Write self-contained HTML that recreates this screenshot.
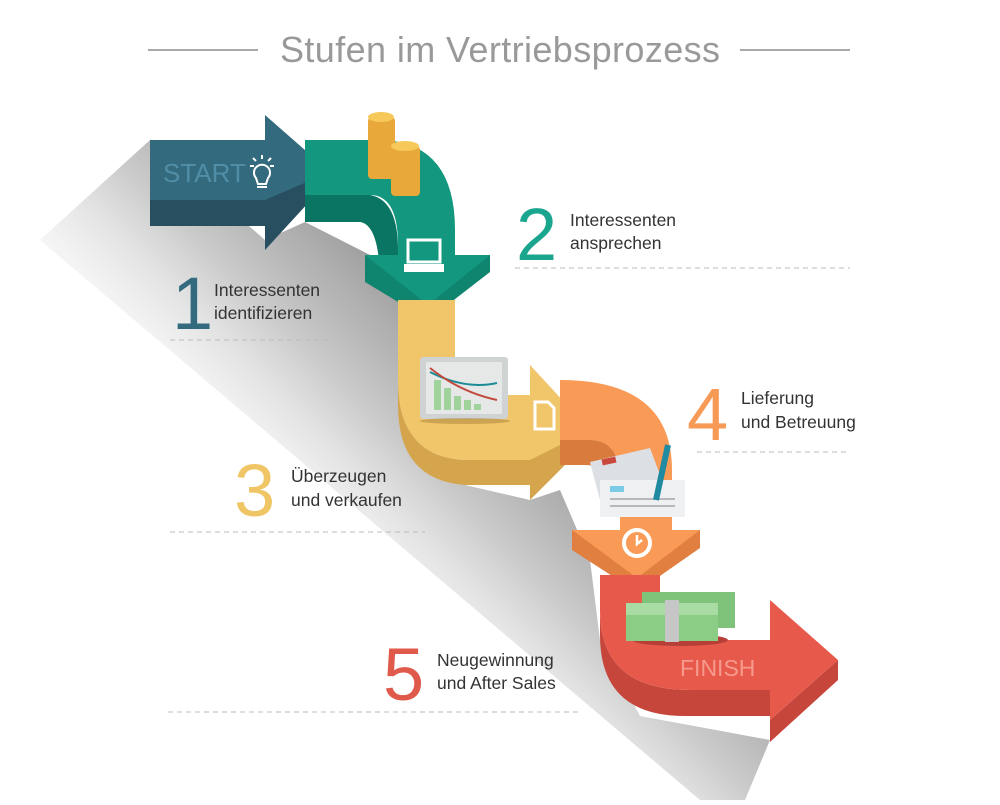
<!DOCTYPE html>
<html><head><meta charset="utf-8"><style>
html,body{margin:0;padding:0;background:#fff;}
body{width:1000px;height:800px;overflow:hidden;font-family:"Liberation Sans",sans-serif;}
</style></head><body>
<svg width="1000" height="800" viewBox="0 0 1000 800" xmlns="http://www.w3.org/2000/svg" font-family="Liberation Sans, sans-serif">
<defs>
<linearGradient id="sh" x1="470" y1="330" x2="240" y2="560" gradientUnits="userSpaceOnUse">
<stop offset="0" stop-color="#999"/><stop offset="0.4" stop-color="#cbcbcb"/><stop offset="1" stop-color="#ffffff" stop-opacity="0"/>
</linearGradient>
</defs>
<!-- shadow -->
<polygon points="150,140 40,240 700,800 745,800 770,740 640,716 600,640 590,560 560,490 530,500 465,485 400,420 398,300 380,260 305,222 265,240" fill="url(#sh)"/>
<!-- title -->
<line x1="148" y1="50" x2="258" y2="50" stroke="#aaa" stroke-width="2"/>
<line x1="740" y1="50" x2="850" y2="50" stroke="#aaa" stroke-width="2"/>
<text x="500" y="62" text-anchor="middle" font-size="36" fill="#999" textLength="440">Stufen im Vertriebsprozess</text>

<!-- START arrow -->
<rect x="150" y="140" width="118" height="60" fill="#336a7e"/>
<rect x="150" y="200" width="118" height="26" fill="#274f60"/>
<polygon points="265,115 330,172 265,250" fill="#336a7e"/>
<polygon points="265,200 330,172 320,190 265,250" fill="#274f60"/>
<text x="163" y="182" font-size="26" fill="#4f8ea6">START</text>
<g stroke="#fff" stroke-width="2" fill="none">
<path d="M256,178 a8,8 0 1 1 12,0 l-2,6 h-8 z"/>
<line x1="257" y1="187" x2="267" y2="187"/>
<line x1="262" y1="155" x2="262" y2="159"/><line x1="250" y1="166" x2="254" y2="166"/><line x1="270" y1="166" x2="274" y2="166"/>
<line x1="253" y1="158" x2="256" y2="161"/><line x1="271" y1="158" x2="268" y2="161"/>
</g>

<!-- teal -->
<path d="M305,195 L370,195 Q398,200 398,250 L398,285 L380,285 Q380,225 360,222 L305,222 Z" fill="#0b7563"/>
<path d="M305,140 L385,140 Q455,145 455,230 L455,258 L398,258 L398,245 Q398,195 370,195 L305,195 Z" fill="#13977f"/>
<polygon points="365,255 490,255 490,272 428,320 365,282" fill="#0f846f"/>
<polygon points="365,255 490,255 428,305" fill="#13977f"/>
<g fill="#fff"><rect x="408" y="240" width="32" height="22" fill="none" stroke="#fff" stroke-width="3"/><rect x="404" y="264" width="40" height="8"/></g>
<!-- coins -->
<rect x="368" y="117" width="27" height="62" rx="4" fill="#e8a93a"/><ellipse cx="381" cy="117" rx="13" ry="5" fill="#f6c95a"/>
<rect x="391" y="146" width="29" height="50" rx="4" fill="#e8a93a"/><ellipse cx="405" cy="146" rx="14" ry="5" fill="#f6c95a"/>

<!-- yellow -->
<path d="M398,380 Q398,460 470,460 L530,460 L530,485 L465,485 Q398,480 398,405 Z" fill="#d4a54c"/>
<path d="M398,300 L455,300 L455,370 Q455,395 480,395 L530,395 L530,460 L470,460 Q398,460 398,380 Z" fill="#f1c56a"/>
<polygon points="530,365 590,430 530,500" fill="#f1c56a"/>
<polygon points="530,460 590,430 590,440 530,500" fill="#d4a54c"/>
<!-- chart -->
<rect x="420" y="357" width="88" height="62" rx="3" fill="#cfd3d4"/>
<rect x="426" y="362" width="76" height="52" fill="#e6e8e8"/>
<g fill="#9fd39b"><rect x="434" y="380" width="7" height="30"/><rect x="444" y="388" width="7" height="22"/><rect x="454" y="396" width="7" height="14"/><rect x="464" y="400" width="7" height="10"/><rect x="474" y="404" width="7" height="6"/></g>
<path d="M430,372 Q465,390 497,383" stroke="#1c8b94" stroke-width="2" fill="none"/>
<path d="M430,368 Q460,392 497,400" stroke="#c24a3d" stroke-width="2" fill="none"/>
<ellipse cx="465" cy="421" rx="45" ry="3" fill="#a58239" opacity="0.5"/>
<path d="M535,402 h13 l6,6 v21 h-19 z" fill="none" stroke="#fff" stroke-width="3"/>

<!-- orange -->
<path d="M560,440 L590,440 Q620,440 620,480 L620,505 Q615,465 585,465 L560,465 Z" fill="#d97b3d"/>
<path d="M560,380 Q672,380 672,470 L672,532 L620,532 L620,480 Q620,440 590,440 L560,440 Z" fill="#f99a56"/>
<polygon points="572,530 700,530 700,548 637,592 572,550" fill="#e07f3f"/>
<polygon points="572,530 700,530 637,578" fill="#f99a56"/>
<circle cx="637" cy="543" r="13" fill="none" stroke="#fff" stroke-width="4"/>
<path d="M637,535 v9 l5,-4" stroke="#fff" stroke-width="2.5" fill="none"/>
<!-- cheque -->
<polygon points="590,462 650,448 665,488 600,500" fill="#dcdfe3"/>
<rect x="600" y="480" width="85" height="37" fill="#eef0f2"/>
<rect x="610" y="486" width="14" height="6" fill="#7ccbe6"/>
<rect x="610" y="498" width="65" height="2" fill="#b5b9bd"/><rect x="610" y="505" width="65" height="2" fill="#b5b9bd"/>
<rect x="602" y="458" width="14" height="6" fill="#c9473c" transform="rotate(-12 609 461)"/>
<line x1="668" y1="445" x2="656" y2="500" stroke="#1f8aa0" stroke-width="6"/>

<!-- red -->
<path d="M600,610 Q600,690 690,690 L770,690 L770,720 L838,660 L838,680 L770,742 L770,716 L685,716 Q600,716 600,635 Z" fill="#c6463b"/>
<path d="M600,575 L660,575 L660,600 Q660,640 700,640 L770,640 L770,600 L838,660 L770,720 L770,690 L690,690 Q600,690 600,610 Z" fill="#e75a4b"/>
<text x="680" y="676" font-size="23" fill="#f59a8d">FINISH</text>
<!-- money -->
<ellipse cx="680" cy="640" rx="48" ry="6" fill="#b64037"/>
<rect x="642" y="592" width="93" height="36" fill="#7fc27a"/>
<rect x="626" y="603" width="92" height="38" fill="#8ccd86"/>
<rect x="626" y="603" width="92" height="12" fill="#a9dca2"/>
<rect x="665" y="600" width="14" height="42" fill="#c6c6c6"/>

<!-- labels -->
<g font-size="17.5" fill="#333">
<text x="172" y="329" font-size="74" fill="#336a7e">1</text>
<text x="214" y="296">Interessenten</text><text x="214" y="319">identifizieren</text>
<text x="516" y="260" font-size="74" fill="#1aa58f">2</text>
<text x="570" y="226">Interessenten</text><text x="570" y="249">ansprechen</text>
<text x="234" y="516" font-size="74" fill="#f0c566">3</text>
<text x="291" y="482">Überzeugen</text><text x="291" y="506">und verkaufen</text>
<text x="687" y="440" font-size="74" fill="#f79a56">4</text>
<text x="741" y="404">Lieferung</text><text x="741" y="428">und Betreuung</text>
<text x="383" y="700" font-size="74" fill="#e05a4b">5</text>
<text x="437" y="666">Neugewinnung</text><text x="437" y="689">und After Sales</text>
</g>
<g stroke="#bbb" stroke-dasharray="5,4" stroke-width="1">
<line x1="170" y1="340" x2="335" y2="340"/>
<line x1="515" y1="268" x2="850" y2="268"/>
<line x1="170" y1="532" x2="425" y2="532"/>
<line x1="697" y1="452" x2="850" y2="452"/>
<line x1="168" y1="712" x2="580" y2="712"/>
</g>
</svg>
</body></html>
